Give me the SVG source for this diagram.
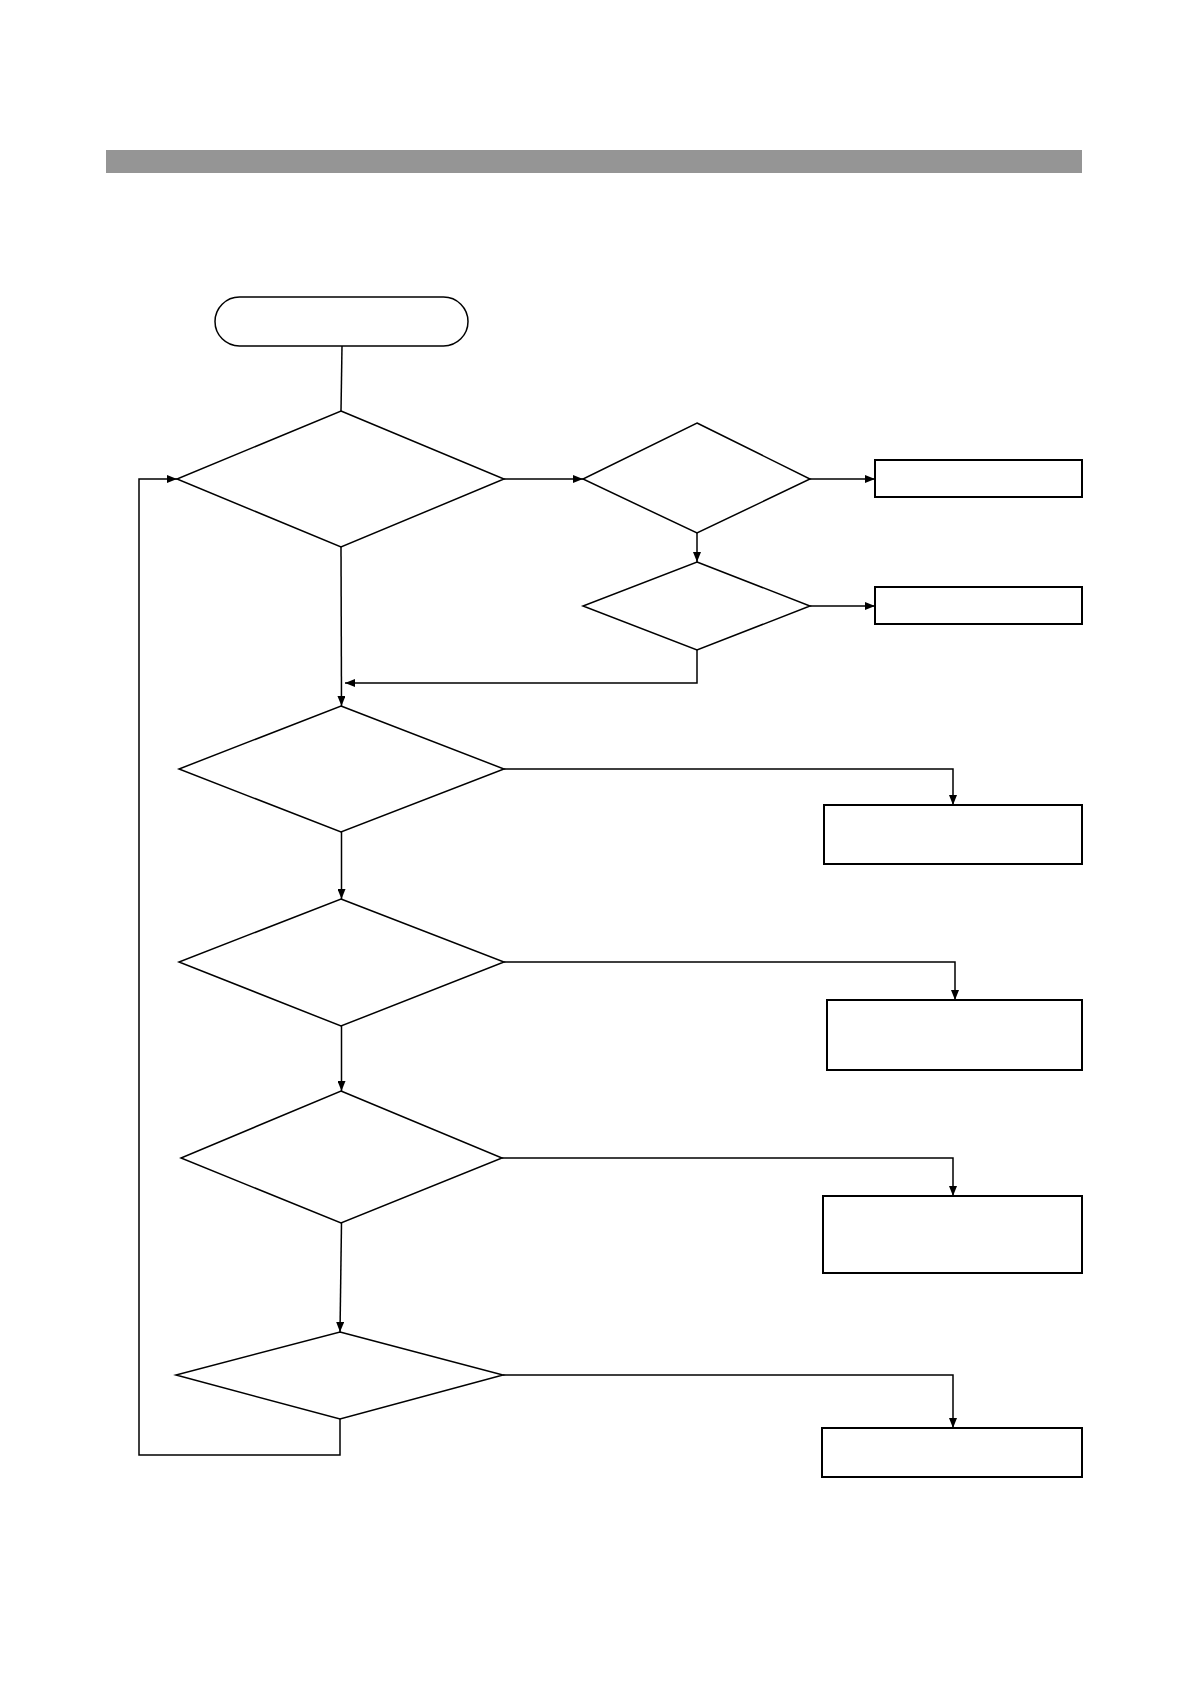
<svg xmlns="http://www.w3.org/2000/svg" width="1190" height="1684" viewBox="0 0 1190 1684">
<defs>
<marker id="arr" markerWidth="10" markerHeight="8" refX="10" refY="4" orient="auto" markerUnits="userSpaceOnUse">
<path d="M0,0 L10,4 L0,8 Z" fill="#000"/>
</marker>
</defs>
<style>
.shape{fill:#fff;stroke:#000;stroke-width:1.5}
.box{fill:#fff;stroke:#000;stroke-width:2}
.conn{fill:none;stroke:#000;stroke-width:1.5}
.arrow{marker-end:url(#arr)}
</style>
<rect x="0" y="0" width="1190" height="1684" fill="#fff"/>
<rect id="header-bar" x="106" y="150" width="976" height="23" fill="#959595"/>
<g id="start"><rect class="shape" x="215" y="297" width="253" height="49" rx="24.5" ry="24.5"/></g>
<g id="d1"><polygon class="shape" points="341,411 504,479 341,547 177,479"/></g>
<g id="d2"><polygon class="shape" points="697,423 810,479 697,533 583,479"/></g>
<g id="d3"><polygon class="shape" points="697,562 810,606 697,650 583,606"/></g>
<g id="d4"><polygon class="shape" points="341,706 504,769 341,832 179,769"/></g>
<g id="d5"><polygon class="shape" points="341,899 504,962 341,1026 179,962"/></g>
<g id="d6"><polygon class="shape" points="341,1091 502,1158 341,1223 181,1158"/></g>
<g id="d7"><polygon class="shape" points="340,1332 503,1375 340,1419 176,1375"/></g>
<g id="b1"><rect class="box" x="875" y="460" width="207" height="37"/></g>
<g id="b2"><rect class="box" x="875" y="587" width="207" height="37"/></g>
<g id="b3"><rect class="box" x="824" y="805" width="258" height="59"/></g>
<g id="b4"><rect class="box" x="827" y="1000" width="255" height="70"/></g>
<g id="b5"><rect class="box" x="823" y="1196" width="259" height="77"/></g>
<g id="b6"><rect class="box" x="822" y="1428" width="260" height="49"/></g>
<g id="connectors">
<path class="conn" d="M342,346 L341,411"/>
<path class="conn arrow" d="M504,479 L583,479"/>
<path class="conn arrow" d="M810,479 L875,479"/>
<path class="conn arrow" d="M697,533 L697,562"/>
<path class="conn arrow" d="M810,606 L875,606"/>
<path class="conn arrow" d="M697,650 L697,683 L345,683"/>
<path class="conn arrow" d="M341,547 L341.5,706"/>
<path class="conn arrow" d="M504,769 L953,769 L953,805"/>
<path class="conn arrow" d="M341.5,832 L341.5,899"/>
<path class="conn arrow" d="M504,962 L955,962 L955,1000"/>
<path class="conn arrow" d="M341.5,1026 L341.5,1091"/>
<path class="conn arrow" d="M502,1158 L953,1158 L953,1196"/>
<path class="conn arrow" d="M341.5,1223 L340,1332"/>
<path class="conn arrow" d="M503,1375 L953,1375 L953,1428"/>
<path class="conn arrow" d="M340,1419 L340,1455 L139,1455 L139,479 L177,479"/>
</g>
</svg>
